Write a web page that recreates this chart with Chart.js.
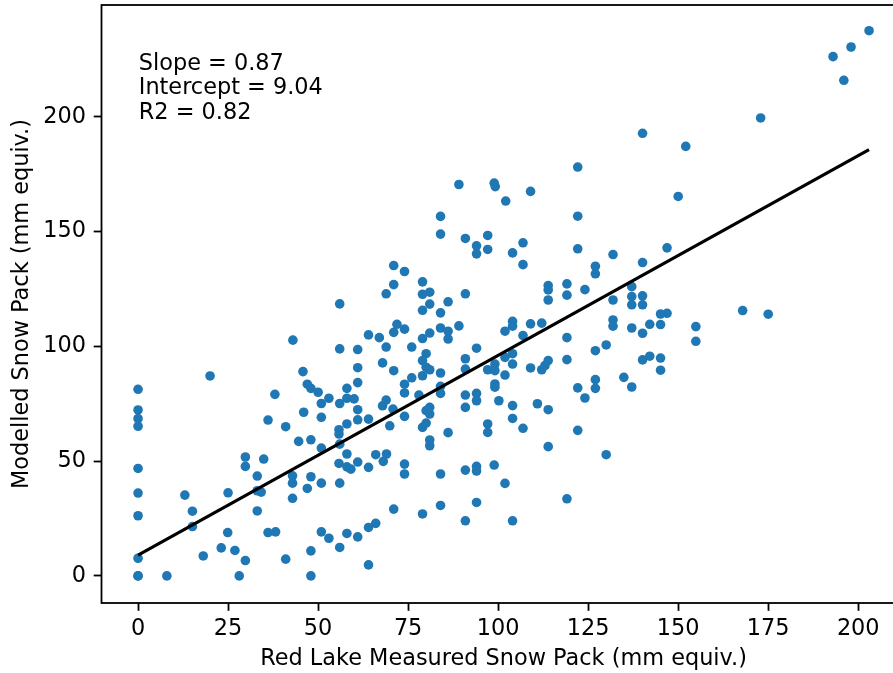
<!DOCTYPE html>
<html>
<head>
<meta charset="utf-8">
<script src="https://cdn.jsdelivr.net/npm/chart.js@4.4.1/dist/chart.umd.min.js"></script>
<style>
  html, body { margin: 0; padding: 0; overflow: hidden; background: #fff; width: 893px; height: 673px; }
  #wrap { position: absolute; left: 0; top: 0; width: 920px; height: 673px; }
</style>
</head>
<body>
<div id="wrap"><canvas id="c" width="920" height="673"></canvas></div>
<script>
// ---- data ----
const measured = [
  89.1, 98.9, 99.2, 102.1, 109, 122.1, 140.1, 152.1, 150, 172.9, 193, 198, 203, 196,
  0, 20, 38, 43, 45.8,
  84, 84, 90.9, 97.1, 94, 94, 97.1, 71, 74, 71, 68.9, 79, 79, 81, 81, 79, 86.1, 90.9, 56, 84,
  71.9, 71, 74, 64, 67, 79, 81, 84, 86.1, 89.1, 86.1, 94, 56, 61, 68.9, 76, 80, 79, 80, 81,
  90.9, 67.9, 61, 71, 84, 90.9, 79, 76, 74, 61, 84, 84, 58, 74, 78, 68.9, 47, 48, 50, 53, 58,
  60, 50.9, 56, 90.9, 94, 97.1, 99.1, 99.1, 99.1, 99.1, 100.2, 94,
  122.1, 106.9, 104, 106.9, 122.1, 131.9, 146.9, 140.1, 127, 127, 113.9, 113.9, 119.1, 119.1,
  124.1, 113.9, 137.1, 137.1, 137.1, 140.1, 140.1, 131.9, 145.1, 146.9, 104, 104, 101.9, 109,
  112.1, 106.9, 131.9, 131.9, 137.1, 140.1, 142.1, 145.1, 154.9, 154.9, 119.1, 130, 127, 101.9,
  104, 104, 109, 112.1, 113, 113.9, 119.1, 101.9, 140.1, 142.1, 145.1, 145.1, 134.9, 127, 127,
  122.1, 137.1, 124.1, 110.9, 104,
  167.9, 175,
  0, 0, 0, 0, 0, 0, 0, 0, 0, 8, 13, 15.1, 15.1, 18.1, 25, 24.9, 23.1, 26.9, 29.8, 28.1, 36.1, 41,
  44.6, 29.8, 29.8, 34.9, 33.1, 33.1, 34.2, 33.1, 36.1, 38.2, 41, 42.9, 42.9, 42.9,
  46, 50.9, 61, 67.9, 61, 64, 70.8, 74, 69.9, 55.8, 58, 55.8, 48, 50.9, 56, 58, 55.8, 58, 59.1,
  61, 64, 66, 69, 68.1, 74, 74, 79, 80, 81, 81, 80, 81, 81, 86.1, 84, 90.9, 94, 94, 98.9, 97.1,
  97.1, 90.9, 48, 47, 50.9, 56, 71, 79, 84, 94, 90.9, 66, 64, 50.9, 53, 58, 61, 56, 48, 64, 48,
  104, 106.9, 122.1, 113.9, 113.9, 130, 101.9, 119.1, 104
];
const modelled = [
  170.5, 171.1, 169.6, 163.3, 167.5, 178.1, 192.8, 187.1, 165.3, 199.5, 226.2, 230.4, 237.5, 215.9,
  81.3, 87.1, 79.1, 102.7, 89,
  156.6, 148.9, 147, 148.3, 143.8, 140.3, 142.2, 135.2, 132.6, 126.9, 122.9, 128.1, 122.7, 123.6,
  118.4, 115.7, 119.4, 122.9, 118.5, 114.6,
  109.6, 106.1, 107.5, 105, 103.8, 103.4, 105.8, 108, 106.6, 108.9, 103.2, 99.2, 98.9, 98.6, 99.7,
  99.7, 96.8, 93.8, 90.9, 89.8,
  94.6, 92.8, 90.7, 89.4, 88.4, 90.1, 87.2, 86.3, 83.5, 84.2, 82.6, 79.5, 81.7, 79.7, 78.8, 76.6,
  83.5, 81.7, 80, 77.4, 77.4,
  77.1, 75.1, 75.1, 78.8, 79.5, 89.8, 92.3, 89.4, 83.6, 82.2, 76.3, 76.3,
  156.7, 145.1, 140.7, 135.6, 142.5, 140, 142.9, 136.5, 134.9, 131.6, 126.5, 124.6, 127.2, 122.3,
  124.7, 120.2, 126, 121.7, 118.1, 122, 118.1, 120.2, 114.1, 114.4, 110.9, 108.8, 106.6, 109.8,
  110.1, 104.7, 111.5, 108.8, 108, 105.7, 109.6, 109.5, 108.6, 102.2, 103.8, 100.6, 98.1, 95.2,
  96.8, 92.3, 90.6, 89.8, 91.6, 93.8, 94.2, 87.5, 94.1, 95.7, 94.9, 89.6, 86.5, 85.5, 81.7,
  81.9, 82.3, 77.5, 75, 74.2,
  115.6, 114,
  72.3, 68.5, 65.2, 46.8, 36.1, 26.2, 7.7, 0, 0, 0, 35.2, 28.2, 21.5, 8.7, 36.2, 18.9, 12.2, 11.1,
  6.7, 0, 67.9, 65,
  58.6, 51.8, 47.7, 50.9, 43.5, 37.1, 36.5, 28.3, 18.9, 19.2, 7.3, 43.6, 40.4, 33.8,
  71.3, 69.1, 72.4, 74.1, 68, 68.3, 72.7, 69.5, 65.4, 63.7, 66.2, 61.8, 59.3, 55.7, 57.4, 53.1,
  49, 47.5, 46.5,
  49.6, 47.3, 52.8, 53.1, 49.9, 48.7, 44.4, 64.7, 66.6, 73.4, 70.5, 72, 59.2, 56.7, 62.4, 44.4,
  46.1, 47.7, 45.7, 48.3, 66.2,
  62.5, 73.4, 43.2, 38.1, 40.4, 40.4, 29.1, 27, 30.7, 32, 24, 22.9, 21.1, 19.2, 16.4, 18.5, 17,
  12.4, 10.9, 4.8, 0,
  68.6, 64.3, 63.4, 72.4, 56.3, 52.8, 40.3, 33.6, 24
];
const fitX = [0, 203];
const fitY = [9.04, 185.7];
const statLines = ["Slope = 0.87", "Intercept = 9.04", "R2 = 0.82"];
const xTicks = [0, 25, 50, 75, 100, 125, 150, 175, 200];
const yTicks = [0, 50, 100, 150, 200];
const xTitle = "Red Lake Measured Snow Pack (mm equiv.)";
const yTitle = "Modelled Snow Pack (mm equiv.)";

// ---- chart ----
const FONT = 'DejaVu Sans';
const FS = 22.4;
Chart.defaults.font.family = FONT;
Chart.defaults.font.size = FS;
Chart.defaults.color = '#000';

const n = Math.min(measured.length, modelled.length);
const pts = [];
for (let i = 0; i < n; i++) pts.push({ x: measured[i], y: modelled[i] });
const fitPts = fitX.map((x, i) => ({ x: x, y: fitY[i] }));

const framePlugin = {
  id: 'frame',
  afterDraw(chart) {
    const { ctx, chartArea: a } = chart;
    ctx.save();
    ctx.strokeStyle = '#000';
    ctx.lineWidth = 1.8;
    ctx.strokeRect(a.left, a.top, a.right - a.left, a.bottom - a.top);
    ctx.fillStyle = '#000';
    ctx.font = FS + 'px "' + FONT + '"';
    ctx.textAlign = 'left';
    ctx.textBaseline = 'alphabetic';
    statLines.forEach((t, i) => {
      ctx.fillText(t, a.left + 37.3, a.top + 64.5 + i * 24.5);
    });
    ctx.restore();
  }
};

new Chart(document.getElementById('c'), {
  data: {
    datasets: [
      {
        type: 'line',
        data: fitPts,
        borderColor: '#000',
        borderWidth: 3.2,
        pointRadius: 0,
        fill: false,
        tension: 0,
        order: 0
      },
      {
        type: 'scatter',
        data: pts,
        backgroundColor: '#1f77b4',
        borderWidth: 0,
        pointRadius: 4.8,
        pointHoverRadius: 4.8,
        order: 1
      }
    ]
  },
  options: {
    responsive: false,
    animation: false,
    devicePixelRatio: 1,
    layout: { padding: { left: 0, top: 5, right: 14.4, bottom: 0 } },
    plugins: { legend: { display: false }, tooltip: { enabled: false } },
    scales: {
      x: {
        type: 'linear',
        position: 'bottom',
        min: -10.15,
        max: 213.15,
        afterBuildTicks: s => { s.ticks = xTicks.map(v => ({ value: v })); },
        afterFit: s => { s.height = 70; s.paddingLeft = 0; s.paddingRight = 0; },
        ticks: { padding: 4.8, color: '#000', font: { size: FS }, maxRotation: 0, autoSkip: false },
        grid: { display: true, drawOnChartArea: false, drawTicks: true, tickLength: 7.8, tickColor: '#000', tickWidth: 1.8 },
        border: { display: false },
        title: { display: true, text: xTitle, color: '#000', font: { size: FS }, padding: { top: 0, bottom: 0 } }
      },
      y: {
        type: 'linear',
        position: 'left',
        min: -11.8,
        max: 248.7,
        afterBuildTicks: s => { s.ticks = yTicks.map(v => ({ value: v })); },
        afterFit: s => { s.width = 101.5; s.paddingTop = 0; s.paddingBottom = 0; },
        ticks: { padding: 7.8, color: '#000', font: { size: FS }, autoSkip: false },
        grid: { display: true, drawOnChartArea: false, drawTicks: true, tickLength: 7.8, tickColor: '#000', tickWidth: 1.8 },
        border: { display: false },
        title: { display: true, text: yTitle, color: '#000', font: { size: FS }, padding: { top: 8.5, bottom: 0 } }
      }
    }
  },
  plugins: [framePlugin]
});
</script>
</body>
</html>
